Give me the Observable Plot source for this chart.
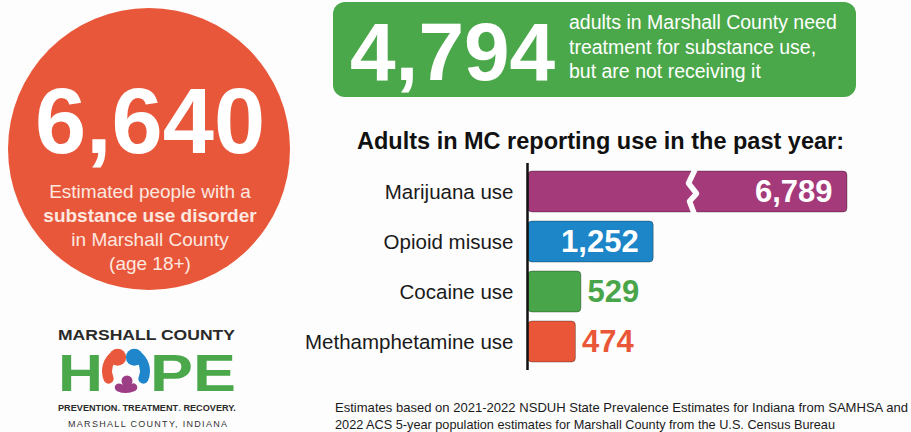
<!DOCTYPE html>
<html><head><meta charset="utf-8">
<script src="https://cdn.jsdelivr.net/npm/d3@7"></script>
<script src="https://cdn.jsdelivr.net/npm/@observablehq/plot@0.6"></script>
<style>
html,body{margin:0;padding:0;background:#fdfdfd;}
#page{position:relative;width:911px;height:432px;overflow:hidden;font-family:"Liberation Sans",Arial,sans-serif;}
#page > svg{position:absolute;left:0;top:0;}
</style></head><body><div id="page"></div>
<script>
// ---- data ----
const categories = ["Marijuana use", "Opioid misuse", "Cocaine use", "Methamphetamine use"];
const values = [6789, 1252, 529, 474];
const barColors = ["#a53a7b", "#1d86c8", "#49a549", "#ea5738"];
const labelInside = [true, true, false, false];
const breakValue = [1700];           // where the marijuana bar is cut
const chartTitle = ["Adults in MC reporting use in the past year:"];
const disorderTotal = ["6,640"];
const disorderText = ["Estimated people with a", "substance use disorder", "in Marshall County", "(age 18+)"];
const untreatedTotal = ["4,794"];
const untreatedText = ["adults in Marshall County need", "treatment for substance use,", "but are not receiving it"];
const footnote = ["Estimates based on 2021-2022 NSDUH State Prevalence Estimates for Indiana from SAMHSA and",
                  "2022 ACS 5-year population estimates for Marshall County from the U.S. Census Bureau"];
const logoText = ["MARSHALL COUNTY", "H", "PE", "PREVENTION. TREATMENT", ".", " RECOVERY.", "MARSHALL COUNTY, INDIANA"];

const rows = categories.map((c, i) => ({category: c, value: values[i], inside: labelInside[i]}));
const fmt = d3.format(",");
const FONT = "'Liberation Sans', Arial, sans-serif";

const page = document.getElementById("page");

// ---- decoration layer ----
const deco = d3.create("svg").attr("width", 911).attr("height", 432).style("font-family", FONT);
page.appendChild(deco.node());

// orange circle
deco.append("circle").attr("cx", 149).attr("cy", 149).attr("r", 141).attr("fill", "#e8573a");
deco.append("text").attr("x", 150).attr("y", 153).attr("text-anchor", "middle")
  .attr("font-size", 92).attr("font-weight", "bold").attr("fill", "#fff").text(disorderTotal[0]);
disorderText.forEach((t, i) => {
  deco.append("text").attr("x", 150).attr("y", 198 + i * 24).attr("text-anchor", "middle")
    .attr("font-size", 19).attr("font-weight", i === 1 ? "bold" : "normal")
    .attr("fill", "#fde8e0").text(t);
});

// green box
deco.append("rect").attr("x", 333).attr("y", 2).attr("width", 523).attr("height", 95).attr("rx", 12)
  .attr("fill", "#4ba84a");
deco.append("text").attr("x", 350).attr("y", 80).attr("font-size", 82).attr("font-weight", "bold")
  .attr("fill", "#fff").text(untreatedTotal[0]);
untreatedText.forEach((t, i) => {
  deco.append("text").attr("x", 569).attr("y", 29 + i * 24.5).attr("font-size", 19.5)
    .attr("fill", "#fff").text(t);
});

// chart title
deco.append("text").attr("x", 357).attr("y", 149).attr("font-size", 23.5).attr("font-weight", "bold")
  .attr("fill", "#111").text(chartTitle[0]);

// footnote
footnote.forEach((t, i) => {
  deco.append("text").attr("x", 335).attr("y", 412 + i * 17).attr("font-size", 13)
    .attr("fill", "#1a1a1a").attr("textLength", i === 0 ? 573 : 500).attr("lengthAdjust", "spacingAndGlyphs").text(t);
});

// logo
deco.append("text").attr("x", 58).attr("y", 340).attr("font-size", 15).attr("font-weight", "bold")
  .attr("fill", "#2a2a2a").attr("textLength", 177).attr("lengthAdjust", "spacingAndGlyphs").text(logoText[0]);
deco.append("text").attr("x", 58).attr("y", 391).attr("font-size", 52).attr("font-weight", "bold")
  .attr("fill", "#4aa84a").attr("textLength", 45).attr("lengthAdjust", "spacingAndGlyphs").text(logoText[1]);
deco.append("text").attr("x", 150).attr("y", 391).attr("font-size", 52).attr("font-weight", "bold")
  .attr("fill", "#4aa84a").attr("textLength", 86).attr("lengthAdjust", "spacingAndGlyphs").text(logoText[2]);
// ring of figures in the "O"
const arc = d3.arc().cornerRadius(5);
const ring = deco.append("g").attr("transform", "translate(126,371)");
const head = (a, r) => [r * Math.sin(a), -r * Math.cos(a)];
ring.append("path").attr("d", arc({innerRadius: 14, outerRadius: 24, startAngle: -2.25, endAngle: -0.3})).attr("fill", "#e9573c");
ring.append("circle").attr("cx", head(-0.55, 16)[0]).attr("cy", head(-0.55, 16)[1]).attr("r", 8.5).attr("fill", "#e9573c");
ring.append("path").attr("d", arc({innerRadius: 14, outerRadius: 24, startAngle: 0.3, endAngle: 2.25})).attr("fill", "#1f86cc");
ring.append("circle").attr("cx", head(0.55, 16)[0]).attr("cy", head(0.55, 16)[1]).attr("r", 8.5).attr("fill", "#1f86cc");
ring.append("path").attr("d", arc({innerRadius: 14, outerRadius: 22, startAngle: 2.5, endAngle: 3.78})).attr("fill", "#9c3d86");
ring.append("circle").attr("cx", 1).attr("cy", 10).attr("r", 5.5).attr("fill", "#9c3d86");

// tagline: pieces measured, then scaled to the logo width
const tagG = deco.append("g").attr("font-size", 9.5).attr("font-weight", "bold").attr("fill", "#2a2a2a");
let cursor = 0;
[[logoText[3], "#2a2a2a"], [logoText[4], "#1f86cc"], [logoText[5], "#2a2a2a"]].forEach(([t, c]) => {
  const el = tagG.append("text").attr("x", cursor).attr("y", 0).attr("fill", c).style("white-space", "pre").text(t);
  cursor += el.node().getComputedTextLength();
});
tagG.attr("transform", `translate(58,411) scale(${178 / cursor},1)`);

deco.append("text").attr("x", 68).attr("y", 427).attr("font-size", 9).attr("fill", "#333")
  .attr("textLength", 159).attr("lengthAdjust", "spacing").text(logoText[6]);

// ---- bar chart ----
const chart = Plot.plot({
  width: 911,
  height: 432,
  marginTop: 163,
  marginBottom: 62,
  marginLeft: 527,
  marginRight: 60,
  style: {background: "transparent", fontFamily: FONT, overflow: "visible"},
  x: {type: "linear", domain: [0, 1650, 6789], range: [528, 693, 847], axis: null},
  y: {domain: categories, range: [171, 362], paddingInner: 0.18, paddingOuter: 0},
  color: {domain: categories, range: barColors},
  marks: [
    Plot.barX(rows, {x: "value", y: "category", fill: "category", rx: 4, stroke: "#000", strokeOpacity: 0.3, strokeWidth: 1}),
    Plot.text(rows.filter(d => d.inside), {x: "value", y: "category", text: d => fmt(d.value), textAnchor: "end", dx: -15, fill: "#fff", fontSize: 31, fontWeight: "bold"}),
    Plot.text(rows.filter(d => !d.inside), {x: "value", y: "category", text: d => fmt(d.value), textAnchor: "start", dx: 6, fill: "category", fontSize: 31, fontWeight: "bold"}),
    Plot.ruleX([0], {stroke: "#111", strokeWidth: 2.5, dx: -1}),
    Plot.axisY({tickSize: 0, tickPadding: 14, fontSize: 20.5, label: null, fill: "#1a1a1a"})
  ]
});
page.appendChild(chart);

// break mark on the marijuana bar, placed through the chart's scales
const xs = chart.scale("x"), ys = chart.scale("y");
const bx = xs.apply(breakValue[0]), barTop = ys.apply(categories[0]), bw = ys.bandwidth;
const brk = d3.create("svg").attr("width", 911).attr("height", 432);
const zig = [[1, -0.06], [-6, 0.3], [2, 0.55], [-5, 0.74], [0, 1.06]].map(([dx, f]) => [bx + dx, barTop + f * bw]);
brk.append("path").attr("d", d3.line()(zig)).attr("fill", "none").attr("stroke", "#fdfdfd")
  .attr("stroke-width", 5.5).attr("stroke-linejoin", "round");
page.appendChild(brk.node());
</script>
</body></html>
